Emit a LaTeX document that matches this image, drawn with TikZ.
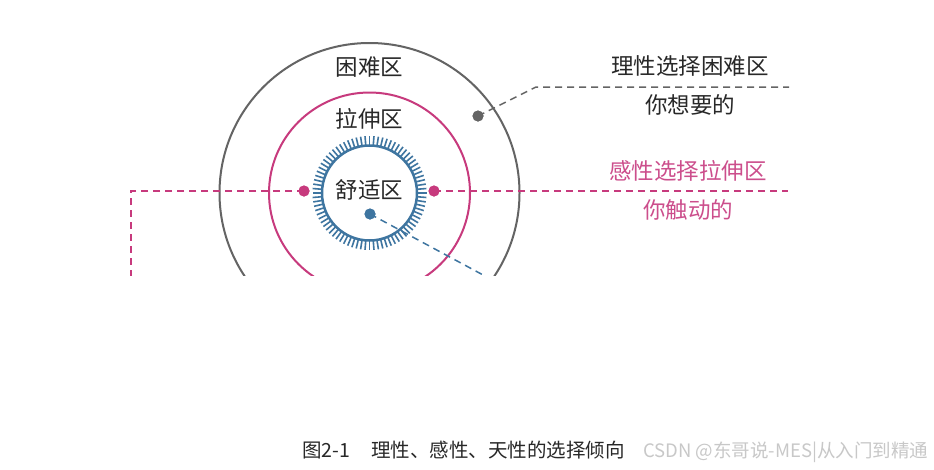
\documentclass[tikz,border=0pt]{standalone}
\usepackage{fontspec}
\setmainfont{Noto Sans CJK SC}
\definecolor{ringgray}{RGB}{100,100,100}
\definecolor{ringpink}{RGB}{199,58,125}
\definecolor{textpink}{RGB}{204,78,140}
\definecolor{ringblue}{RGB}{62,117,160}
\definecolor{txt}{RGB}{40,40,40}
\definecolor{wm}{RGB}{200,200,200}
\tikzset{
  lbl/.style={inner sep=0pt, text=txt, font=\fontsize{22.5}{26}\selectfont},
  plbl/.style={lbl, text=textpink},
  dotg/.style={circle, fill=ringgray, inner sep=0pt, minimum size=11pt},
  dotp/.style={circle, fill=ringpink, inner sep=0pt, minimum size=11pt},
  dotb/.style={circle, fill=ringblue, inner sep=0pt, minimum size=11pt},
  dashg/.style={draw=ringgray, line width=1.5pt, dash pattern=on 7pt off 5pt},
  dashp/.style={draw=ringpink, line width=1.5pt, dash pattern=on 7pt off 5pt},
  dashb/.style={draw=ringblue, line width=1.5pt, dash pattern=on 7pt off 5pt},
}
\begin{document}
\begin{tikzpicture}[x=1pt,y=-1pt]
\useasboundingbox[fill=white] (0,0) rectangle (934,469);
\coordinate (c) at (369.5,193);
\begin{scope}
\clip (0,0) rectangle (934,275);
\draw[ringgray, line width=2pt] (c) circle (150);
\draw[ringpink, line width=2pt] (c) circle (100.5);
\draw[ringblue, line width=2.5pt] (c) circle (47.5);
\foreach \a in {0,4.5,...,355.5}
  \draw[ringblue, line width=1.6pt] (c) ++(\a:47.5) -- ++(\a:9.5);
% dots
\node[dotg] (gd) at (478,116) {};
\node[dotp] (pl) at (304,191) {};
\node[dotp] (pr) at (434,191) {};
\node[dotb] (bd) at (370,214) {};
% connector ends
\coordinate (gk) at (536,87);
\coordinate (ge) at (789,87);
\coordinate (pe) at (788,191);
\coordinate (pc) at (131,191);
\coordinate (pb) at (131,290);
\coordinate (be) at (510,289.5);
\draw[dashg] (gd.center) -- (gk) -- (ge);
\draw[dashp] (pr.center) -- (pe);
\draw[dashp] (pl.center) -- (pc) -- (pb);
\draw[dashb] (bd.center) -- (be);
\node[dotg] at (gd) {};
\node[dotp] at (pl) {};
\node[dotp] at (pr) {};
\node[dotb] at (bd) {};
\end{scope}
% labels
\node[lbl] (hard) at (369.5,67) {困难区};
\node[lbl] (stretch) at (369.5,119) {拉伸区};
\node[lbl] (comfort) at (369.5,190) {舒适区};
\node[lbl] (rt1) at (690,66) {理性选择困难区};
\node[lbl] (rt2) at (690,105) {你想要的};
\node[plbl] (pt1) at (688,171) {感性选择拉伸区};
\node[plbl] (pt2) at (688,210) {你触动的};
\node[lbl, font=\fontsize{19.5}{23}\selectfont, anchor=west] (cap) at (302,450) {图2-1\hspace{21pt}理性、感性、天性的选择倾向};
\node[inner sep=0pt, text=wm, font=\fontsize{18.5}{22}\selectfont, anchor=west] (wmk) at (643,452) {CSDN @东哥说-MES|从入门到精通};
\end{tikzpicture}
\end{document}
